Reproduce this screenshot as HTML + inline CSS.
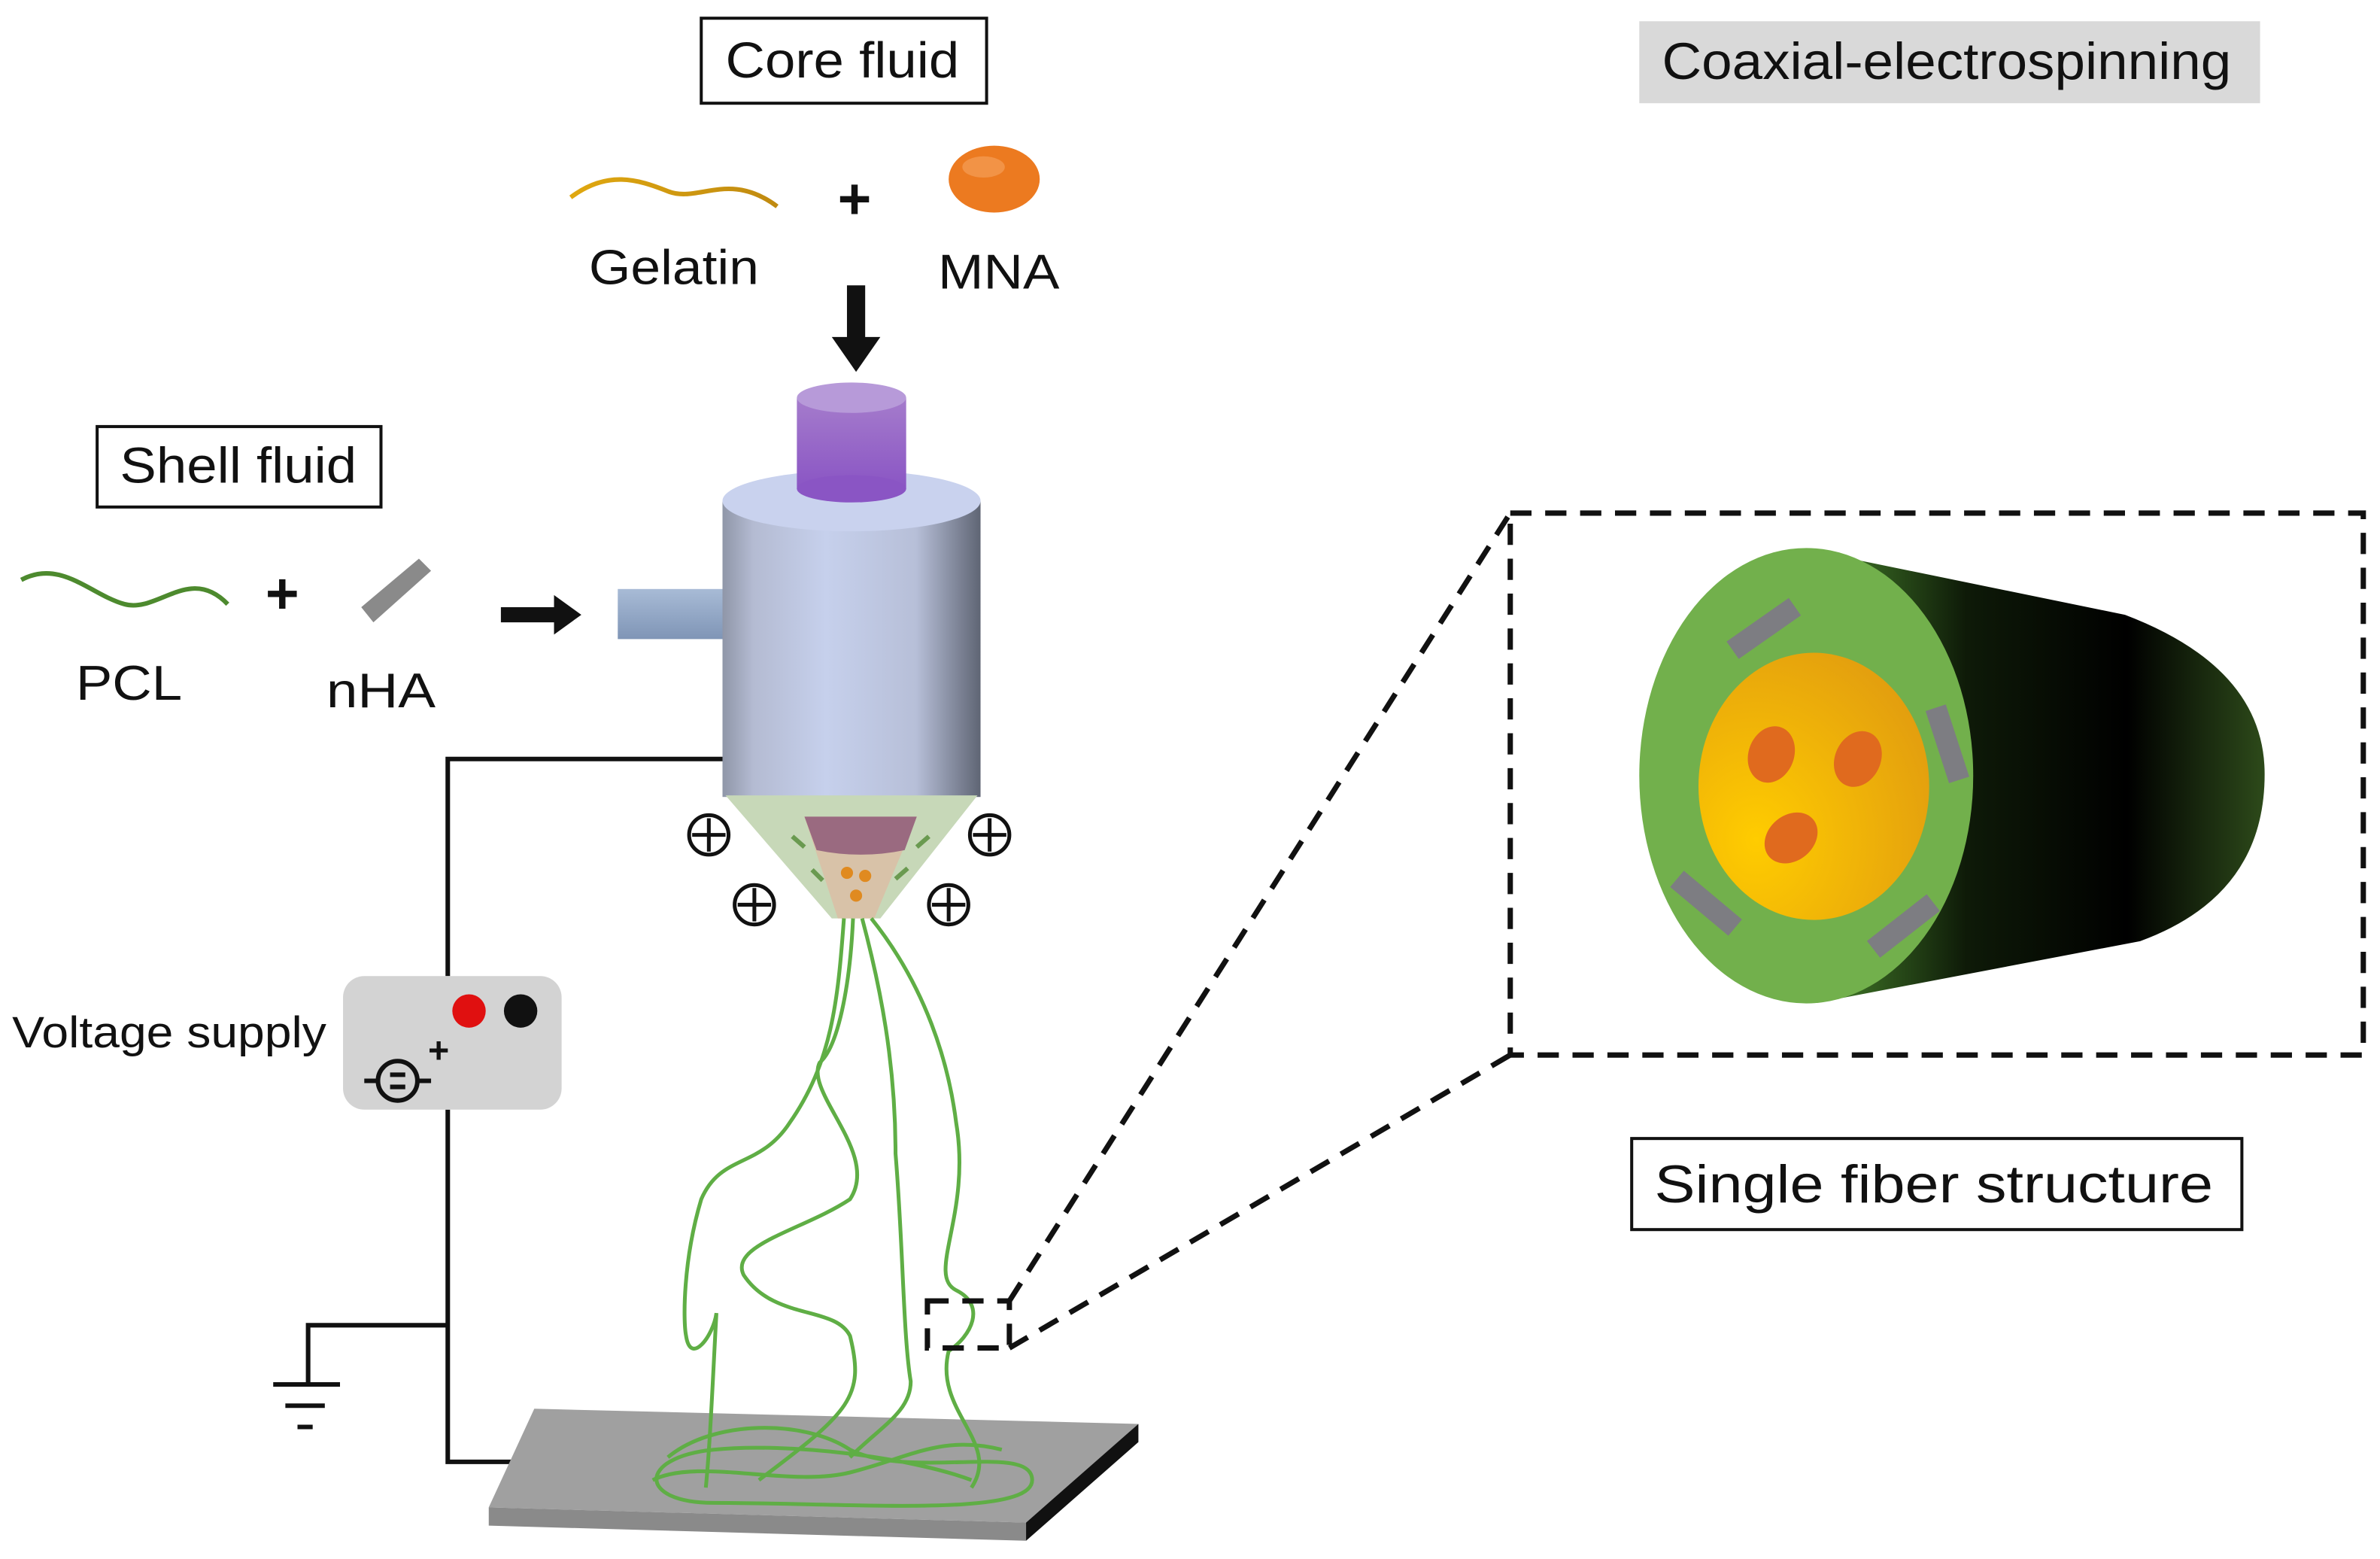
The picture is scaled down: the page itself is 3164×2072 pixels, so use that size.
<!DOCTYPE html>
<html><head><meta charset="utf-8"><style>
html,body{margin:0;padding:0;background:#fff;}
svg{display:block;}
text{font-family:"Liberation Sans",Arial,sans-serif;fill:#111;}
</style></head><body>
<svg width="3164" height="2072" viewBox="0 0 1568 1027" preserveAspectRatio="none" xmlns="http://www.w3.org/2000/svg">
<defs>
<linearGradient id="cyl" x1="0" x2="1" y1="0" y2="0">
<stop offset="0" stop-color="#8f96a8"/><stop offset="0.12" stop-color="#b4bbd2"/><stop offset="0.4" stop-color="#c6d0ec"/><stop offset="0.75" stop-color="#b7bfd8"/><stop offset="1" stop-color="#5f6574"/></linearGradient>
<linearGradient id="pur" x1="0" x2="0" y1="0" y2="1"><stop offset="0" stop-color="#a57ccc"/><stop offset="1" stop-color="#8a55c4"/></linearGradient>
<linearGradient id="tube" x1="0" x2="0" y1="0" y2="1"><stop offset="0" stop-color="#a8bbd6"/><stop offset="1" stop-color="#7f95b6"/></linearGradient>
<linearGradient id="fib" x1="0" x2="1" y1="0" y2="0"><stop offset="0" stop-color="#4a8a2e"/><stop offset="0.35" stop-color="#0e1a08"/><stop offset="0.7" stop-color="#000"/><stop offset="1" stop-color="#2d4a1a"/></linearGradient>
<radialGradient id="core" cx="0.25" cy="0.7" r="0.9"><stop offset="0" stop-color="#ffcc00"/><stop offset="1" stop-color="#e09a10"/></radialGradient>
<linearGradient id="gold" x1="0" x2="1"><stop offset="0" stop-color="#e0a810"/><stop offset="1" stop-color="#c08a10"/></linearGradient>
</defs>

<rect x="462" y="12" width="188" height="56" fill="#fff" stroke="#111" stroke-width="2"/>
<text x="478" y="51" font-size="33" textLength="154" lengthAdjust="spacingAndGlyphs">Core fluid</text>
<rect x="1080" y="14" width="409" height="54" fill="#d9d9d9"/>
<text x="1095" y="52" font-size="34" fill="#222" textLength="375" lengthAdjust="spacingAndGlyphs">Coaxial-electrospinning</text>

<path d="M376 130 C400 112,420 118,440 126 C460 134,480 112,512 136" fill="none" stroke="url(#gold)" stroke-width="3"/>
<text x="388" y="187" font-size="32" textLength="112" lengthAdjust="spacingAndGlyphs">Gelatin</text>
<text x="563" y="144" font-size="38" font-weight="bold" text-anchor="middle">+</text>
<ellipse cx="655" cy="118" rx="30" ry="22" fill="#ec7a20"/>
<ellipse cx="648" cy="110" rx="14" ry="7" fill="#f6a360" opacity="0.6"/>
<text x="618" y="190" font-size="32" textLength="80" lengthAdjust="spacingAndGlyphs">MNA</text>
<polygon points="558,188 570,188 570,222 580,222 564,245 548,222 558,222" fill="#111"/>

<rect x="64" y="281" width="187" height="53" fill="#fff" stroke="#111" stroke-width="2"/>
<text x="79" y="318" font-size="33" textLength="156" lengthAdjust="spacingAndGlyphs">Shell fluid</text>
<path d="M14 382 C40 368,60 392,82 398 C104 404,125 372,150 398" fill="none" stroke="#4d8a2e" stroke-width="3"/>
<text x="50" y="461" font-size="32" textLength="70" lengthAdjust="spacingAndGlyphs">PCL</text>
<text x="186" y="404" font-size="38" font-weight="bold" text-anchor="middle">+</text>
<polygon points="238,400 276,368 284,376 246,410" fill="#8a8a8a"/>
<text x="215" y="466" font-size="32" textLength="72" lengthAdjust="spacingAndGlyphs">nHA</text>
<polygon points="330,400 365,400 365,392 383,405 365,418 365,410 330,410" fill="#111"/>

<path d="M476 500 H295 V643 M295 731 V963 H352 M295 873 H203 V912" fill="none" stroke="#111" stroke-width="3"/>
<line x1="180" y1="912" x2="224" y2="912" stroke="#111" stroke-width="3"/>
<line x1="188" y1="926" x2="214" y2="926" stroke="#111" stroke-width="3"/>
<line x1="196" y1="940" x2="206" y2="940" stroke="#111" stroke-width="3"/>

<text x="8" y="690" font-size="29" textLength="207" lengthAdjust="spacingAndGlyphs">Voltage supply</text>
<rect x="226" y="643" width="144" height="88" rx="14" fill="#d3d3d3"/>
<circle cx="309" cy="666" r="11" fill="#e01010"/>
<circle cx="343" cy="666" r="11" fill="#111"/>
<circle cx="262" cy="712" r="13" fill="none" stroke="#111" stroke-width="3"/>
<line x1="240" y1="712" x2="249" y2="712" stroke="#111" stroke-width="3"/>
<line x1="275" y1="712" x2="284" y2="712" stroke="#111" stroke-width="3"/>
<line x1="257" y1="708" x2="267" y2="708" stroke="#111" stroke-width="3"/>
<line x1="257" y1="716" x2="267" y2="716" stroke="#111" stroke-width="3"/>
<text x="282" y="700" font-size="24" font-weight="bold">+</text>

<rect x="407" y="388" width="95" height="33" fill="url(#tube)"/>
<rect x="476" y="330" width="170" height="195" fill="url(#cyl)"/>
<ellipse cx="561" cy="330" rx="85" ry="20" fill="#c9d2ee"/>
<rect x="525" y="262" width="72" height="60" fill="url(#pur)"/>
<ellipse cx="561" cy="262" rx="36" ry="10" fill="#b79ad9"/>
<ellipse cx="561" cy="322" rx="36" ry="9" fill="#8a55c4"/>
<polygon points="478,524 644,524 580,605 548,605" fill="#c7d8b8"/>
<polygon points="530,538 604,538 576,605 552,605" fill="#d8c2a8"/>
<path d="M530 538 H604 L596 560 Q567 566 538 560 Z" fill="#9a6a80"/>
<circle cx="558" cy="575" r="4" fill="#e08a20"/><circle cx="570" cy="577" r="4" fill="#e08a20"/><circle cx="564" cy="590" r="4" fill="#e08a20"/>
<g stroke="#6a9a50" stroke-width="3"><line x1="522" y1="551" x2="530" y2="558"/><line x1="535" y1="573" x2="542" y2="580"/><line x1="612" y1="551" x2="604" y2="558"/><line x1="598" y1="572" x2="590" y2="579"/></g>
<g fill="none" stroke="#111" stroke-width="2.5">
<circle cx="467" cy="550" r="13"/><path d="M467 539V561M456 550H478"/>
<circle cx="652" cy="550" r="13"/><path d="M652 539V561M641 550H663"/>
<circle cx="497" cy="596" r="13"/><path d="M497 585V607M486 596H508"/>
<circle cx="625" cy="596" r="13"/><path d="M625 585V607M614 596H636"/>
</g>

<polygon points="352,928 750,938 676,1003 322,993" fill="#a0a0a0"/>
<polygon points="322,993 676,1003 676,1015 322,1005" fill="#8a8a8a"/>
<polygon points="750,938 750,950 676,1015 676,1003" fill="#111"/>

<g fill="none" stroke="#5fae45" stroke-width="2.5">
<path d="M556 605 C552 660,548 700,520 740 C500 770,475 760,462 790 C450 830,450 870,452 880 C455 900,470 880,472 865 C470 900,468 950,465 980"/>
<path d="M562 605 C560 650,552 690,540 700 C530 720,580 760,560 790 C530 810,480 820,490 840 C510 870,550 860,560 880 C570 920,560 930,500 975"/>
<path d="M568 605 C580 650,590 700,590 760 C595 820,595 880,600 910 C600 930,580 940,560 960"/>
<path d="M574 605 C610 650,625 700,630 740 C640 800,610 840,630 850 C650 860,640 880,625 890 C615 930,660 950,640 980"/>
<path d="M440 960 C470 935,530 935,560 955 C600 975,680 950,680 975 C680 1000,560 990,470 990 C420 990,420 960,470 955 C520 950,600 960,640 975"/>
<path d="M430 975 C460 960,520 980,560 970 C600 960,620 945,660 955"/>
</g>

<g fill="none" stroke="#111" stroke-width="3.5" stroke-dasharray="14 9">
<rect x="611" y="857" width="54" height="31"/>
<line x1="665" y1="857" x2="995" y2="338"/>
<line x1="665" y1="888" x2="995" y2="695"/>
<rect x="995" y="338" width="562" height="357"/>
</g>

<path d="M1190 362 L1400 405 Q1492 440 1492 510 Q1492 590 1410 620 L1200 660 Z" fill="url(#fib)"/>
<ellipse cx="1190" cy="511" rx="110" ry="150" fill="#72b04c"/>
<ellipse cx="1195" cy="518" rx="76" ry="88" fill="url(#core)"/>
<ellipse cx="1167" cy="497" rx="15" ry="19" transform="rotate(20 1167 497)" fill="#e06a1e"/>
<ellipse cx="1224" cy="500" rx="15" ry="19" transform="rotate(25 1224 500)" fill="#e06a1e"/>
<ellipse cx="1180" cy="552" rx="15" ry="19" transform="rotate(50 1180 552)" fill="#e06a1e"/>
<g fill="#7d7d82">
<rect x="-25" y="-7" width="50" height="14" transform="translate(1162 414) rotate(-35)"/>
<rect x="-25" y="-7" width="50" height="14" transform="translate(1283 490) rotate(72)"/>
<rect x="-25" y="-7" width="50" height="14" transform="translate(1124 595) rotate(40)"/>
<rect x="-25" y="-7" width="50" height="14" transform="translate(1254 610) rotate(-38)"/>
</g>

<rect x="1075" y="750" width="402" height="60" fill="#fff" stroke="#111" stroke-width="2"/>
<text x="1090" y="792" font-size="35" textLength="368" lengthAdjust="spacingAndGlyphs">Single fiber structure</text>
</svg>
</body></html>
